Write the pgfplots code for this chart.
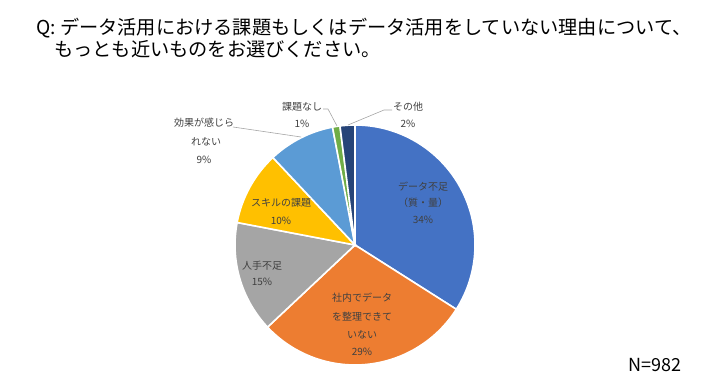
\documentclass[border=0pt]{standalone}
\usepackage{pgfplots}
\usepackage{pgfplotstable}
\pgfplotsset{compat=1.18}
\usepackage{fontspec}
\setmainfont{Noto Sans CJK JP}
\definecolor{c0}{HTML}{4472C4}
\definecolor{c1}{HTML}{ED7D31}
\definecolor{c2}{HTML}{A5A5A5}
\definecolor{c3}{HTML}{FFC000}
\definecolor{c4}{HTML}{5B9BD5}
\definecolor{c5}{HTML}{70AD47}
\definecolor{c6}{HTML}{264478}
\definecolor{lbl}{HTML}{404040}
\definecolor{lead}{HTML}{A6A6A6}
\pgfplotstableread{
label value
A 34
B 29
C 15
D 10
E 9
F 1
G 2
}\piedata
\begin{document}
\begin{tikzpicture}
\begin{axis}[at={(0,0)}, anchor=south west, scale only axis, width=720pt, height=390pt,
  xmin=0, xmax=720, ymin=0, ymax=390, hide axis, clip=false]
\path (axis cs:0,0) rectangle (axis cs:720,390);
\gdef\cum{0}
\pgfplotsforeachungrouped \i in {0,...,6}{%
  \pgfplotstablegetelem{\i}{value}\of\piedata
  \pgfmathsetmacro\sa{90-3.6*\cum}%
  \pgfmathsetmacro\ea{90-3.6*(\cum+\pgfplotsretval)}%
  \pgfmathsetmacro\newcum{\cum+\pgfplotsretval}%
  \xdef\cum{\newcum}%
  \edef\temp{\noexpand\fill[c\i, draw=white, line width=1.6pt] (axis cs:355,145) -- ++(\sa:120pt) arc[start angle=\sa, end angle=\ea, radius=120pt] -- cycle;}%
  \temp
}
% title
\node[anchor=west, font=\fontsize{19.2}{22}\selectfont, inner sep=0pt] at (axis cs:36,361.5) {Q: データ活用における課題もしくはデータ活用をしていない理由について、};
\node[anchor=west, font=\fontsize{19.2}{22}\selectfont, inner sep=0pt] at (axis cs:54,340.5) {もっとも近いものをお選びください。};
% leader lines
\draw[lead, line width=0.6pt] (axis cs:233,263) -- (axis cs:301,253);
\draw[lead, line width=0.6pt] (axis cs:323,281) -- (axis cs:328,281) -- (axis cs:337,264);
\draw[lead, line width=0.6pt] (axis cs:392,280) -- (axis cs:384,280) -- (axis cs:348,265);
% labels
\begin{scope}[every node/.style={text=lbl, font=\fontsize{10}{12}\selectfont, inner sep=0pt}]
\node at (axis cs:423,203) {データ不足};
\node at (axis cs:423,187) {（質・量）};
\node at (axis cs:423,170) {34\%};
\node at (axis cs:362,92) {社内でデータ};
\node at (axis cs:362,73) {を整理できて};
\node at (axis cs:362,55) {いない};
\node at (axis cs:362,38) {29\%};
\node at (axis cs:262,124) {人手不足};
\node at (axis cs:262,108) {15\%};
\node at (axis cs:281,187) {スキルの課題};
\node at (axis cs:281,169) {10\%};
\node at (axis cs:204,267) {効果が感じら};
\node at (axis cs:206,248) {れない};
\node at (axis cs:204,230) {9\%};
\node at (axis cs:302,283) {課題なし};
\node at (axis cs:302,266) {1\%};
\node at (axis cs:408,283) {その他};
\node at (axis cs:408,266) {2\%};
\end{scope}
\node[font=\fontsize{18}{20}\selectfont, inner sep=0pt] at (axis cs:655,25) {N=982};
\end{axis}
\end{tikzpicture}
\end{document}
